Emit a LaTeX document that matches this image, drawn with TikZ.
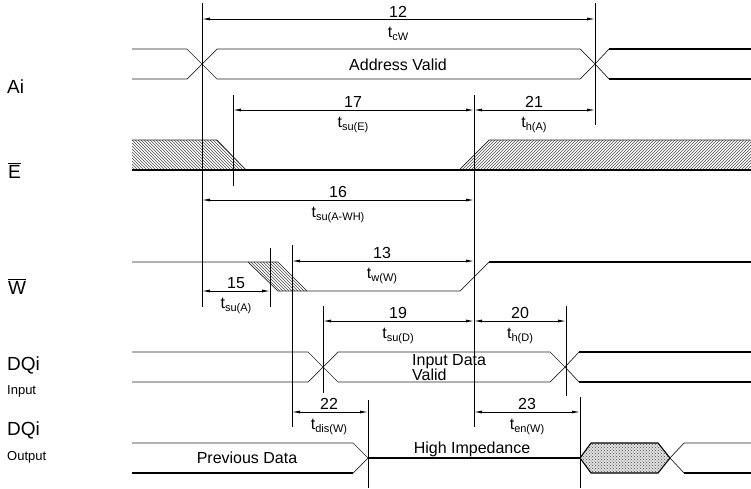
\documentclass[tikz,border=0pt]{standalone}
\usepackage{fontspec}
\setmainfont{Liberation Sans}
\usetikzlibrary{arrows.meta,patterns}
\newcommand\tsb[1]{t\raisebox{-3pt}{\fontsize{11}{11}\selectfont #1}}
\begin{document}
\begin{tikzpicture}[x=1pt,y=-1pt,
  thinl/.style={line width=0.7pt, draw=black!85},
  thickl/.style={line width=1.8pt},
  marker/.style={line width=0.8pt},
  dim/.style={line width=0.8pt,{Latex[length=8pt,width=3pt]}-{Latex[length=8pt,width=3pt]}},
  lbl/.style={font=\fontsize{16}{18}\selectfont, inner sep=0pt, anchor=base},
  sig/.style={font=\fontsize{19}{21}\selectfont, anchor=base west, inner sep=0pt},
  sub/.style={font=\fontsize{13}{15}\selectfont, anchor=base west, inner sep=0pt}]
\useasboundingbox (0,0) rectangle (751,488);

% ---------- signal names ----------
\node[sig] (nA) at (7,93) {Ai};
\node[sig] (nE) at (8,178) {$\overline{\mbox{E}}$};
\node[sig] (nW) at (8,294) {$\overline{\mbox{W}}$};
\node[sig] (nDI) at (7,370) {DQi};
\node[sub] (nIn) at (7,394) {Input};
\node[sig] (nDO) at (7,435) {DQi};
\node[sub] (nOut) at (7,460) {Output};

% ---------- Address row ----------
\draw[thinl] (132,49) -- (187,49) -- (202,64);
\draw[thinl] (132,79) -- (187,79) -- (202,64);
\draw[thinl] (202,64) -- (217,49) -- (580,49) -- (595,64);
\draw[thinl] (202,64) -- (217,79) -- (580,79) -- (595,64);
\draw[thinl] (595,64) -- (609,49);
\draw[thinl] (595,64) -- (609,79);
\draw[thickl] (609,49) -- (751,49);
\draw[thickl] (609,79) -- (751,79);
\node[lbl] (tAV) at (398,70) {Address Valid};

% ---------- E row ----------
\fill[pattern=north west lines, pattern color=black!70] (132,140) -- (217,140) -- (246,170) -- (132,170) -- cycle;
\draw[thinl] (132,140) -- (217,140) -- (246,170);
\fill[pattern=north east lines, pattern color=black!70] (459,170) -- (489,140) -- (751,140) -- (751,170) -- cycle;
\draw[thinl] (459,170) -- (489,140) -- (751,140);
\draw[thickl] (132,170) -- (751,170);

% ---------- W row ----------
\fill[pattern=north west lines, pattern color=black!70] (248,262) -- (278,262) -- (307,291) -- (278,291) -- cycle;
\draw[thinl] (132,262) -- (278,262) -- (307,291);
\draw[thinl] (248,262) -- (278,291) -- (460,291) -- (489,262);
\draw[thickl] (489,262) -- (751,262);

% ---------- DQi input row ----------
\draw[thinl] (132,352) -- (308,352) -- (323,367);
\draw[thinl] (132,382) -- (308,382) -- (323,367);
\draw[thinl] (323,367) -- (338,352) -- (550,352) -- (565,367);
\draw[thinl] (323,367) -- (338,382) -- (550,382) -- (565,367);
\draw[thinl] (565,367) -- (579,352);
\draw[thinl] (565,367) -- (579,382);
\draw[thickl] (579,352) -- (751,352);
\draw[thickl] (579,382) -- (751,382);
\node[lbl, anchor=base west] (tID) at (412,365) {Input Data};
\node[lbl, anchor=base west] (tVa) at (412,380) {Valid};

% ---------- DQi output row ----------
\draw[thinl] (132,443) -- (353,443) -- (368,458);
\draw[thickl] (132,473) -- (353,473);
\draw[thinl] (353,473) -- (368,458);
\draw[thickl] (368,458) -- (580,458);
\fill[black!12] (580,458) -- (591,443) -- (658,443) -- (670,458) -- (658,473) -- (591,473) -- cycle;
\draw[line width=1.1pt, pattern=crosshatch dots, pattern color=black!70]
  (580,458) -- (591,443) -- (658,443) -- (670,458) -- (658,473) -- (591,473) -- cycle;
\draw[thinl] (670,458) -- (684,443) -- (751,443);
\draw[thinl] (670,458) -- (684,473);
\draw[thickl] (684,473) -- (751,473);
\node[lbl] (tPD) at (247,463) {Previous Data};
\node[lbl] (tHI) at (472,453) {High Impedance};

% ---------- marker lines ----------
\draw[marker] (202,3) -- (202,307);
\draw[marker] (595,3) -- (595,125);
\draw[marker] (233,95) -- (233,186);
\draw[marker] (474,95) -- (474,427);
\draw[marker] (270,248) -- (270,307);
\draw[marker] (292,245) -- (292,427);
\draw[marker] (323,306) -- (323,393);
\draw[marker] (566,306) -- (566,396);
\draw[marker] (368,400) -- (368,488);
\draw[marker] (580,397) -- (580,488);

% ---------- timing arrows ----------
\draw[dim] (202,19) -- (595,19);
\node[lbl] (n12) at (398,17) {12};
\node[lbl] (s12) at (398,37) {\tsb{cW}};

\draw[dim] (233,110) -- (474,110);
\node[lbl] (n17) at (353,107) {17};
\node[lbl] (s17) at (353,127) {\tsb{su(E)}};

\draw[dim] (474,110) -- (595,110);
\node[lbl] (n21) at (534,107) {21};
\node[lbl] (s21) at (534,127) {\tsb{h(A)}};

\draw[dim] (202,200) -- (474,200);
\node[lbl] (n16) at (338,197) {16};
\node[lbl] (s16) at (338,217) {\tsb{su(A-WH)}};

\draw[dim] (202,291) -- (270,291);
\node[lbl] (n15) at (236,288) {15};
\node[lbl] (s15) at (236,308) {\tsb{su(A)}};

\draw[dim] (292,261) -- (474,261);
\node[lbl] (n13) at (382,258) {13};
\node[lbl] (s13) at (382,278) {\tsb{w(W)}};

\draw[dim] (323,321) -- (474,321);
\node[lbl] (n19) at (398,318) {19};
\node[lbl] (s19) at (398,338) {\tsb{su(D)}};

\draw[dim] (474,321) -- (566,321);
\node[lbl] (n20) at (520,318) {20};
\node[lbl] (s20) at (520,338) {\tsb{h(D)}};

\draw[dim] (292,412) -- (368,412);
\node[lbl] (n22) at (329,409) {22};
\node[lbl] (s22) at (329,429) {\tsb{dis(W)}};

\draw[dim] (474,412) -- (580,412);
\node[lbl] (n23) at (527,409) {23};
\node[lbl] (s23) at (527,429) {\tsb{en(W)}};
\end{tikzpicture}
\end{document}
